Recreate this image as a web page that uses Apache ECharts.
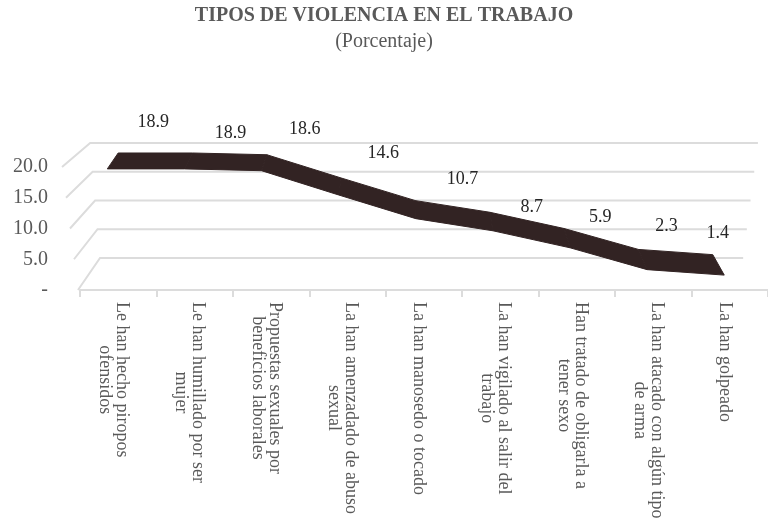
<!DOCTYPE html>
<html>
<head>
<meta charset="utf-8">
<script src="https://cdn.jsdelivr.net/npm/echarts@6/dist/echarts.min.js"></script>
<style>html,body{margin:0;padding:0;background:#fff}#chart{width:768px;height:529px}</style>
</head>
<body>
<div id="chart"></div>
<script>
var categorias = [
  'Le han hecho piropos\nofensidos',
  'Le han humillado por ser\nmujer',
  'Propuestas sexuales por\nbeneficios laborales',
  'La han amenzadado de abuso\nsexual',
  'La han manosedo o tocado',
  'La han vigilado al salir del\ntrabajo',
  'Han tratado de obligarla a\ntener sexo',
  'La han atacado con algún tipo\nde arma',
  'La han golpeado'
];
var porcentajes = [18.9, 18.9, 18.6, 14.6, 10.7, 8.7, 5.9, 2.3, 1.4];
var nivelesY = [0, 5, 10, 15, 20];
// desplazamiento de cada etiqueta respecto al borde trasero de la cinta (px)
var ajusteEtiquetas = [[35, -31], [38, -20], [38, -25], [42, -25], [47, -21], [42, -5], [36, -11], [28, -23], [5, -21]];

var fuente = 'Liberation Serif';
var gris = '#595959';
var colorCinta = '#322323';
var colorGrilla = '#dcdcdc';

// proyeccion simple de la profundidad: d=0 plano frontal, d=1 pared del fondo
function proyectar(cs, px, py, d) {
  var base = cs.y + cs.height;
  var bx = cs.x + 18 + (px - cs.x) * 0.945;
  var by = base - 32 + (py - base) * 0.935;
  return [px + (bx - px) * d, py + (by - py) * d];
}

var d0 = 0.2, d1 = 0.85;

function puntoCinta(api, cs, i, d) {
  var p = api.coord([i, porcentajes[i]]);
  var px = cs.x + (p[0] - cs.x) * 1.02 - 15;
  return proyectar(cs, px, p[1], d);
}

var myChart = echarts.init(document.getElementById('chart'));
var option = {
  animation: false,
  title: {
    text: 'TIPOS DE VIOLENCIA EN EL TRABAJO',
    subtext: '(Porcentaje)',
    left: 'center',
    top: 1,
    itemGap: 6,
    textStyle: { fontFamily: fuente, fontWeight: 'bold', fontSize: 20, color: gris },
    subtextStyle: { fontFamily: fuente, fontSize: 20, color: gris }
  },
  grid: { left: 80, right: 0, top: 167, bottom: 239 },
  xAxis: {
    type: 'category',
    data: categorias,
    boundaryGap: true,
    axisLine: { lineStyle: { color: colorGrilla, width: 2 } },
    axisTick: { show: true, interval: 0, length: 7, lineStyle: { color: colorGrilla, width: 2 } },
    axisLabel: {
      interval: 0,
      rotate: -90,
      margin: 12,
      padding: [10, 0, 0, 0],
      fontFamily: fuente,
      fontSize: 18,
      color: gris,
      lineHeight: 17,
      formatter: function (v) {
        return v.split('\n').map(function (l) { return '{c|' + l + '}'; }).join('\n');
      },
      rich: { c: { align: 'center', fontFamily: fuente, fontSize: 18, color: gris, lineHeight: 17 } }
    }
  },
  yAxis: {
    type: 'value',
    min: 0,
    max: 20,
    interval: 5,
    axisLine: { show: false },
    axisTick: { show: false },
    splitLine: { show: false },
    axisLabel: {
      margin: 32,
      fontFamily: fuente,
      fontSize: 20,
      color: gris,
      formatter: function (v) { return v === 0 ? '-' : v.toFixed(1); }
    }
  },
  series: [
    {
      type: 'custom',
      silent: true,
      data: nivelesY.map(function (v) { return [0, v]; }),
      renderItem: function (params, api) {
        var cs = params.coordSys;
        var base = cs.y + cs.height;
        var fy = api.coord([0, api.value(1)])[1];
        var alto = base - fy;
        var atras = proyectar(cs, cs.x, fy, 1);
        var atrasDer = proyectar(cs, cs.x + cs.width, fy, 1);
        return {
          type: 'polyline',
          shape: { points: [
            [cs.x - 2 - alto * 0.13, fy],
            [atras[0] + 2 - alto * 0.08, atras[1]],
            [atrasDer[0] - 5 + alto * 0.12, atrasDer[1]]
          ] },
          style: { stroke: colorGrilla, lineWidth: 2, fill: null }
        };
      }
    },
    {
      type: 'custom',
      silent: true,
      data: porcentajes.map(function (v, i) { return [i, v]; }),
      renderItem: function (params, api) {
        var cs = params.coordSys;
        var i = params.dataIndex;
        var hijos = [];
        if (i < porcentajes.length - 1) {
          var a = puntoCinta(api, cs, i, d0), b = puntoCinta(api, cs, i + 1, d0);
          var c = puntoCinta(api, cs, i + 1, d1), d = puntoCinta(api, cs, i, d1);
          hijos.push({
            type: 'polygon',
            shape: { points: [a, b, c, d] },
            style: { fill: colorCinta, stroke: colorCinta, lineWidth: 1, lineJoin: 'round' }
          });
        }
        var top = puntoCinta(api, cs, i, d1);
        var aj = ajusteEtiquetas[i];
        hijos.push({
          type: 'text',
          style: {
            x: top[0] + aj[0],
            y: top[1] + aj[1],
            text: porcentajes[i].toFixed(1),
            fontFamily: fuente,
            fontSize: 18,
            fill: '#262626',
            align: 'center',
            verticalAlign: 'middle'
          }
        });
        return { type: 'group', children: hijos };
      }
    }
  ]
};
myChart.setOption(option);
</script>
</body>
</html>
